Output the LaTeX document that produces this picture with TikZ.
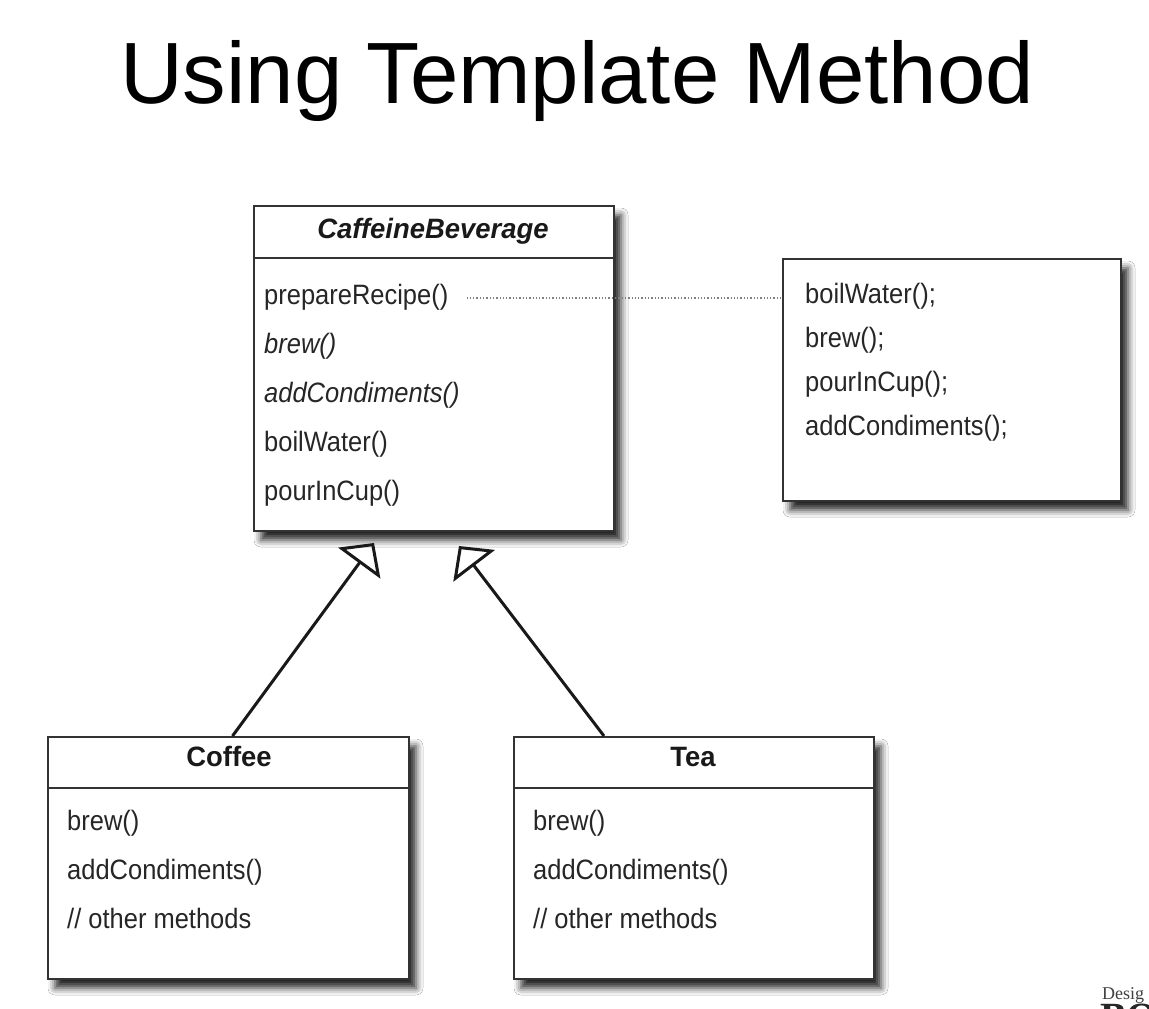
\documentclass[tikz,border=0pt]{standalone}
\usepackage{fontspec}
\setmainfont{Liberation Sans}
\newfontfamily\umlfnt[FakeStretch=0.91]{Liberation Sans}
\newfontfamily\umlnamefnt[FakeStretch=0.98]{Liberation Sans}
\newfontfamily\logofnt{Liberation Serif}
\usetikzlibrary{arrows.meta,shadows.blur}
\newcommand\memberfnt{\umlfnt\fontsize{28}{32}\selectfont}
\newcommand\namefnt{\umlnamefnt\fontsize{28}{32}\selectfont\bfseries}
\tikzset{
  umlbox/.style={draw=black!80, line width=2pt, fill=white, inner sep=0pt,
    anchor=north west,
    blur shadow={shadow xshift=7pt, shadow yshift=-9pt, shadow blur radius=7pt, shadow opacity=85}},
  divider/.style={draw=black!80, line width=2pt},
  member/.style={font=\memberfnt, anchor=west, inner sep=0pt, text height=20pt, text depth=7pt, text=black!85},
  classname/.style={font=\namefnt, inner sep=0pt, text height=20pt, text depth=7pt, text=black!90},
  inherit/.style={line width=3pt, draw=black!90, -{Triangle[open, length=25pt, width=52pt, line width=3pt]}},
  dotline/.style={draw=black!50, line width=1.3pt, dotted}
}
\begin{document}
\begin{tikzpicture}[x=1pt, y=-1pt]
\useasboundingbox[fill=white] (0,0) rectangle (1149,1009);

% title
\node[font=\fontsize{87}{96}\selectfont, anchor=base, inner sep=0pt] (title) at (577,103) {Using Template Method};

% CaffeineBeverage
\node[umlbox, minimum width=360pt, minimum height=325pt] (cb) at (253,205) {};
\draw[divider] (cb.west |- 0,258) -- (cb.east |- 0,258);
\node[classname, font=\namefnt\itshape] (cbname) at (433,232) {CaffeineBeverage};
\node[member] (cb1) at (264,298) {prepareRecipe()};
\node[member, font=\memberfnt\itshape] (cb2) at (264,347) {brew()};
\node[member, font=\memberfnt\itshape] (cb3) at (264,396) {addCondiments()};
\node[member] (cb4) at (264,445) {boilWater()};
\node[member] (cb5) at (264,494) {pourInCup()};

% note box
\node[umlbox, minimum width=338pt, minimum height=242pt] (note) at (782,258) {};
\node[member] (n1) at (805,297) {boilWater();};
\node[member] (n2) at (805,341) {brew();};
\node[member] (n3) at (805,385) {pourInCup();};
\node[member] (n4) at (805,429) {addCondiments();};

\draw[dotline] ([xshift=18pt]cb1.east) -- (note.west |- cb1.center);

% Coffee
\node[umlbox, minimum width=361pt, minimum height=242pt] (coffee) at (47,736) {};
\draw[divider] (coffee.west |- 0,788) -- (coffee.east |- 0,788);
\node[classname] (coffeename) at (229,760) {Coffee};
\node[member] (c1) at (67,824) {brew()};
\node[member] (c2) at (67,873) {addCondiments()};
\node[member] (c3) at (67,922) {// other methods};

% Tea
\node[umlbox, minimum width=360pt, minimum height=242pt] (tea) at (513,736) {};
\draw[divider] (tea.west |- 0,788) -- (tea.east |- 0,788);
\node[classname] (teaname) at (693,760) {Tea};
\node[member] (t1) at (533,824) {brew()};
\node[member] (t2) at (533,873) {addCondiments()};
\node[member] (t3) at (533,922) {// other methods};

% inheritance arrows
\coordinate (tipA) at (374,543);
\coordinate (tipB) at (459,546);
\draw[inherit] ([xshift=4pt]coffee.north) -- (tipA);
\draw[inherit] ([xshift=-90pt]tea.north) -- (tipB);

% cropped logo
\node[font=\logofnt\fontsize{18}{20}\selectfont, anchor=base west, inner sep=0pt, text=black!75] (logo) at (1102,999) {Desig};
\node[font=\logofnt\fontsize{40}{44}\selectfont\bfseries, anchor=north west, inner sep=0pt, text=black!85] (logo2) at (1100,1004) {BO};
\end{tikzpicture}
\end{document}
